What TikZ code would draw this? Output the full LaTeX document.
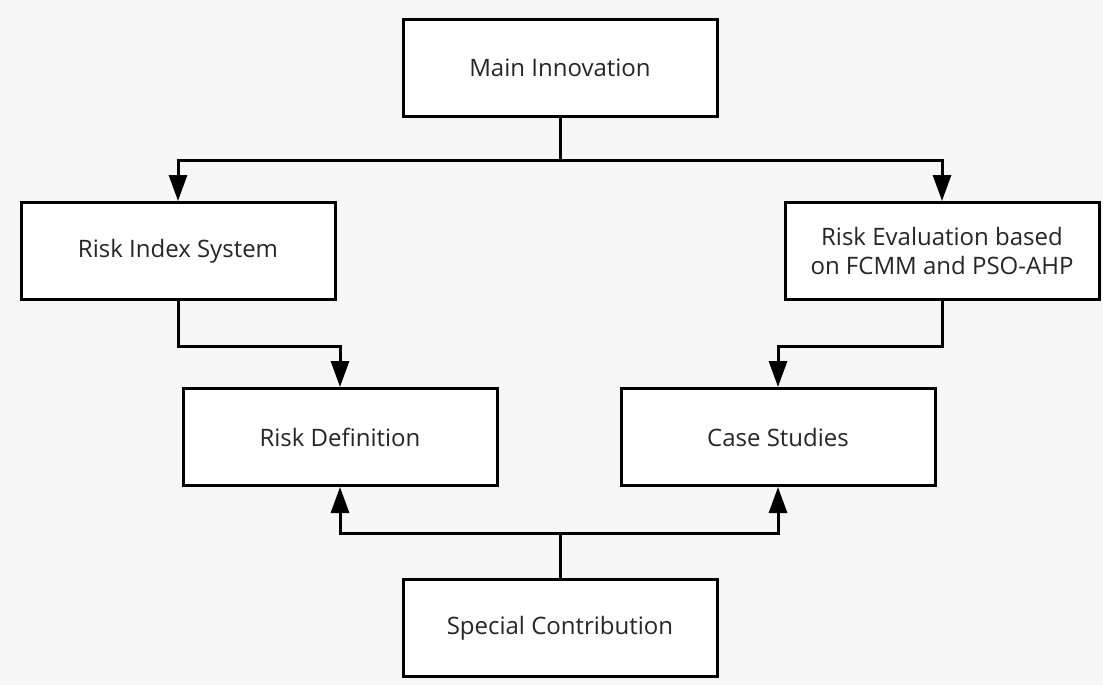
\documentclass[tikz,border=0pt]{standalone}
\usepackage{fontspec}
\setmainfont{Open Sans}
\usepackage{tikz}
\usetikzlibrary{arrows.meta}
\definecolor{bggray}{HTML}{F7F7F7}
\definecolor{txtgray}{HTML}{262626}

\begin{document}
\begin{tikzpicture}[
  x=1pt, y=-1pt,
  >={Triangle[length=26pt,width=18pt]},
  box/.style={draw,line width=3pt,fill=white,minimum width=314pt,minimum height=97pt,
              align=center,text=txtgray,font=\fontsize{24}{29}\selectfont,inner sep=0pt},
  link/.style={->,line width=3pt}
]
\fill[bggray] (0,0) rectangle (1103,685);

\node[box] (main) at (560,68)  {Main Innovation};
\node[box] (ris)  at (178,251) {Risk Index System};
\node[box] (rev)  at (942,251) {Risk Evaluation based\\on FCMM and PSO-AHP};
\node[box] (rdef) at (340,437) {Risk Definition};
\node[box] (cs)   at (778,437) {Case Studies};
\node[box] (sc)   at (560,628) {Special Contribution};

\coordinate (split) at (560,160);
\coordinate (join)  at (560,533);

\draw[line width=3pt] (main.south) -- (split);
\draw[link] (split) -| (ris.north);
\draw[link] (split) -| (rev.north);

\draw[link] (ris.south) -- ++(0,45) -| (rdef.north);
\draw[link] (rev.south) -- ++(0,45) -| (cs.north);

\draw[line width=3pt] (sc.north) -- (join);
\draw[link] (join) -| (rdef.south);
\draw[link] (join) -| (cs.south);
\end{tikzpicture}
\end{document}
